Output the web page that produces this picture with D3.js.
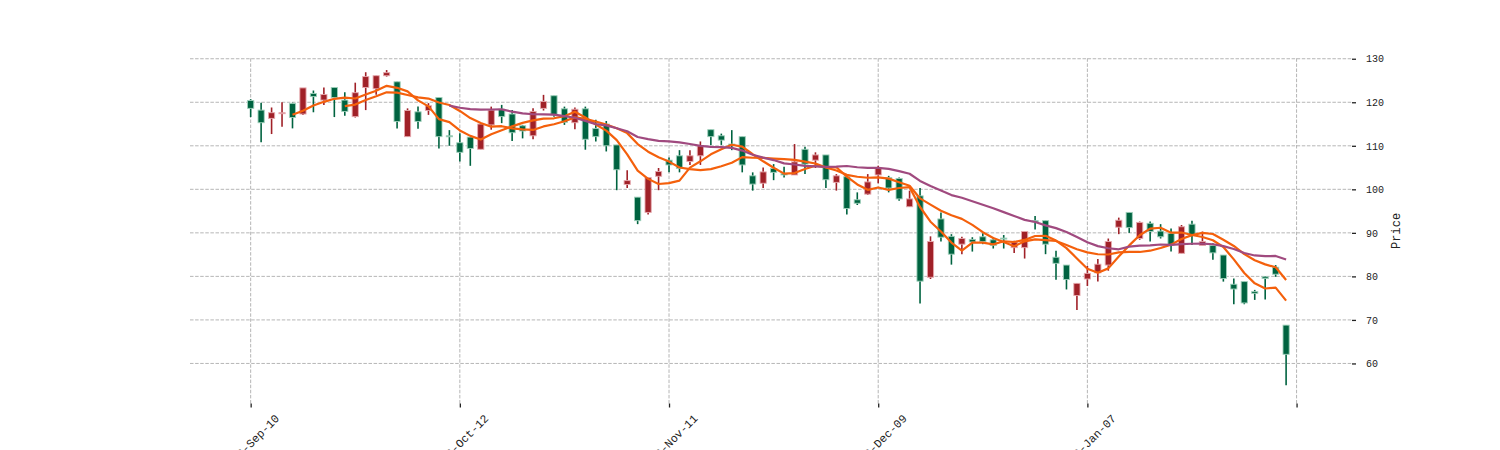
<!DOCTYPE html>
<html>
<head>
<meta charset="utf-8">
<script src="https://cdn.jsdelivr.net/npm/d3@7"></script>
<style>
  html, body { margin: 0; padding: 0; background: #fff; }
  svg { display: block; }
</style>
</head>
<body>
<svg id="chart" width="1500" height="450"></svg>
<script>
// ---- data ----
const opens = [120.4,118.2,116.3,117.4,119.7,117.3,122.0,120.5,123.4,120.5,
  116.7,123.4,123.1,126.1,124.7,112.1,117.8,118.1,121.1,112.3,
  110.7,112.0,109.2,114.8,118.4,117.3,114.6,112.3,118.6,121.5,
  118.5,115.3,118.5,114.0,115.0,110.2,101.1,98.2,94.7,103.0,
  106.7,107.7,106.4,107.7,113.7,112.3,110.4,112.1,103.1,101.4,
  104.8,103.6,103.3,109.2,106.7,107.9,101.6,102.9,97.6,98.9,
  103.3,102.7,102.5,96.0,98.5,79.8,93.2,89.2,87.4,88.5,
  89.1,88.4,88.8,86.6,86.6,92.8,92.8,84.4,82.6,75.6,
  79.4,80.8,82.6,91.3,94.7,88.7,92.2,90.4,89.9,85.3,
  92.0,87.1,87.1,84.9,78.2,78.8,76.5,79.9,82.1,68.8];
const highs = [120.7,119.9,118.8,120.0,119.9,123.3,122.7,123.4,123.4,122.3,
  124.5,126.9,126.1,127.4,124.7,118.6,119.0,119.8,121.1,113.6,
  112.9,112.0,115.0,119.0,119.4,118.2,114.8,118.6,121.7,121.5,
  119.0,118.8,119.0,116.0,115.7,110.2,104.4,98.2,102.7,104.9,
  107.3,109.0,109.0,111.0,113.7,112.8,113.6,112.1,103.9,105.0,
  105.8,105.2,110.4,109.8,108.5,107.9,103.5,103.5,99.3,103.5,
  105.4,103.1,102.7,99.7,100.3,89.2,94.7,89.7,89.1,89.0,
  89.9,89.0,89.5,88.2,90.3,93.9,92.8,85.9,82.6,78.4,
  82.4,84.0,88.7,93.5,94.7,92.6,92.6,92.0,91.0,91.8,
  92.8,90.3,87.6,84.9,79.5,78.8,76.9,80.1,82.6,68.8];
const lows = [116.6,110.8,112.7,114.4,114.0,117.1,117.7,119.4,116.6,116.9,
  116.5,118.2,121.7,125.9,114.0,112.1,113.9,117.1,109.4,110.0,
  106.4,105.4,109.2,113.7,115.2,111.1,111.7,111.5,118.1,116.7,
  114.8,113.8,109.1,111.0,108.7,99.8,100.3,92.0,94.2,99.8,
  103.9,103.9,105.6,105.6,110.2,110.2,109.0,103.9,99.7,100.3,
  102.1,102.7,103.3,103.5,104.9,100.3,99.7,94.2,96.4,98.7,
  101.4,99.3,97.4,96.0,73.8,79.4,88.0,82.7,85.1,85.7,
  87.4,86.4,86.4,85.4,84.1,90.8,85.1,79.2,77.0,72.3,
  77.8,78.8,81.3,89.7,90.0,88.4,88.0,88.7,85.7,85.3,
  87.2,87.1,83.8,78.8,73.6,73.6,74.6,74.7,79.9,55.0];
const closes = [118.6,115.3,117.6,117.6,116.5,123.3,121.3,121.8,121.1,117.9,
  122.2,125.9,126.1,126.8,115.6,118.1,115.6,119.2,112.1,112.2,
  108.5,109.4,115.0,118.2,116.7,113.0,113.4,117.9,120.2,117.1,
  115.4,118.4,111.5,112.1,110.0,104.5,102.0,92.8,102.7,104.1,
  105.6,104.8,107.7,110.0,112.1,111.3,110.1,105.6,101.2,104.0,
  103.9,103.3,106.3,105.8,107.9,102.2,103.1,95.6,96.8,101.7,
  104.9,100.3,97.8,97.8,78.9,88.0,89.0,85.1,88.7,87.9,
  88.0,87.1,88.6,87.9,90.3,92.5,87.4,83.0,79.3,78.4,
  80.7,82.8,88.0,92.9,91.2,92.4,90.3,89.1,87.2,91.4,
  89.5,88.0,85.4,79.5,77.1,73.9,76.1,79.5,80.5,62.1];
const tickIndex = [0, 20, 40, 60, 80, 100];
const tickLabels = ["2018-Sep-10", "2018-Oct-12", "2018-Nov-11", "2018-Dec-09", "2019-Jan-07", ""];
const yTicks = [60, 70, 80, 90, 100, 110, 120, 130];
const mavPeriods = [5, 10, 20];
const mavColors = ["#f4600c", "#f4600c", "#a04a7f"];

(function () {
// ---- layout ----
const svg = d3.select("#chart");
const pLeft = 190, pRight = 1352, pTop = 58.3, pBottom = 403.5;
const x = d3.scaleLinear().domain([-5.8, 105.3]).range([pLeft, pRight]);
const y = d3.scaleLinear().domain([50.8, 130.1]).range([pBottom, pTop]);

const upColor = "#a02128", downColor = "#006340";
const fontFam = "'Liberation Mono', 'DejaVu Sans Mono', monospace";

// grid
const grid = svg.append("g");
grid.selectAll("line.h").data(yTicks).join("line")
  .attr("x1", pLeft).attr("x2", pRight)
  .attr("y1", d => y(d)).attr("y2", d => y(d))
  .attr("stroke", "#a3a3a3").attr("stroke-width", 0.8).attr("stroke-dasharray", "3.5,1.6");
grid.selectAll("line.v").data(tickIndex).join("line")
  .attr("x1", d => x(d)).attr("x2", d => x(d))
  .attr("y1", pTop).attr("y2", pBottom)
  .attr("stroke", "#a3a3a3").attr("stroke-width", 0.8).attr("stroke-dasharray", "3.5,1.6");

// candles
const data = closes.map((c, i) => ({i, o: opens[i], h: highs[i], l: lows[i], c}));
const cg = svg.append("g");
const bw = 6.2;
cg.selectAll("line.wick").data(data).join("line")
  .attr("x1", d => x(d.i)).attr("x2", d => x(d.i))
  .attr("y1", d => y(d.h)).attr("y2", d => y(d.l))
  .attr("stroke", d => d.c >= d.o ? upColor : downColor)
  .attr("stroke-width", 1.6);
cg.selectAll("rect.body").data(data).join("rect")
  .attr("x", d => x(d.i) - bw / 2)
  .attr("width", bw)
  .attr("y", d => y(Math.max(d.o, d.c)))
  .attr("height", d => Math.max(1, Math.abs(y(d.o) - y(d.c))))
  .attr("fill", d => d.c >= d.o ? upColor : downColor)
  .attr("stroke", d => d.c >= d.o ? "#e6a9ae" : "#9fd0bb")
  .attr("stroke-width", 0.9);

// moving averages of the close
mavPeriods.forEach((p, k) => {
  const pts = [];
  for (let i = p - 1; i < closes.length; i++) {
    pts.push([i, d3.mean(closes.slice(i - p + 1, i + 1))]);
  }
  svg.append("path")
    .attr("d", d3.line().x(d => x(d[0])).y(d => y(d[1]))(pts))
    .attr("fill", "none")
    .attr("stroke", mavColors[k])
    .attr("stroke-width", 2.2)
    .attr("stroke-linejoin", "round");
});

// x axis
const xAxis = d3.axisBottom(x).tickValues(tickIndex).tickSize(4).tickFormat(() => "");
const xg = svg.append("g").attr("transform", `translate(0,${pBottom})`).call(xAxis);
xg.select(".domain").remove();
xg.selectAll(".tick line").attr("stroke", "#222").attr("stroke-width", 1.3);
svg.append("g").selectAll("text").data(tickIndex).join("text")
  .attr("transform", (d) => `translate(${x(d)},${pBottom + 40}) rotate(-45)`)
  .attr("text-anchor", "middle")
  .attr("dominant-baseline", "central")
  .attr("font-family", fontFam)
  .attr("font-size", 11.5)
  .attr("fill", "#222")
  .text((d, i) => tickLabels[i]);

// y axis (right)
const yAxis = d3.axisRight(y).tickValues(yTicks).tickSize(4).tickPadding(10);
const yg = svg.append("g").attr("transform", `translate(${pRight},0)`).call(yAxis);
yg.select(".domain").remove();
yg.selectAll(".tick line").attr("stroke", "#222").attr("stroke-width", 1.3);
yg.selectAll(".tick text").attr("font-family", fontFam).attr("font-size", 10).attr("fill", "#222");

// y label
svg.append("text")
  .attr("transform", `translate(1397,${(pTop + pBottom) / 2}) rotate(-90)`)
  .attr("text-anchor", "middle")
  .attr("dominant-baseline", "central")
  .attr("font-family", fontFam)
  .attr("font-size", 12)
  .attr("fill", "#222")
  .text("Price");
})();
</script>
</body>
</html>
